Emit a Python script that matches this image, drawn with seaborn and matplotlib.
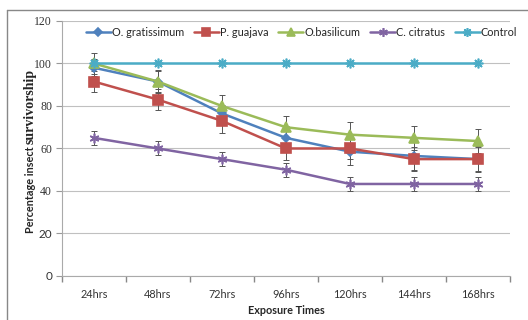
import numpy as np
import pandas as pd
import seaborn as sns
import matplotlib
matplotlib.use("Agg")
import matplotlib.pyplot as plt
from matplotlib.lines import Line2D

times = ["24hrs", "48hrs", "72hrs", "96hrs", "120hrs", "144hrs", "168hrs"]
species = ["O. gratissimum", "P. guajava", "O.basilicum", "C. citratus", "Control"]

gratissimum = [98, 91.5, 76.5, 65, 58.5, 56.5, 55]
guajava = [91.5, 83, 73, 60, 60, 55, 55]
basilicum = [100, 91.5, 80, 70, 66.5, 65, 63.5]
citratus = [65, 60, 55, 50, 43.3, 43.3, 43.3]
control = [100, 100, 100, 100, 100, 100, 100]

err_gratissimum = [4, 5, 4, 5.5, 6.5, 6.5, 5.5]
err_guajava = [5, 5, 5.5, 5.5, 5, 5.5, 6]
err_basilicum = [5, 5.5, 5, 5.5, 5.8, 5.5, 5.5]
err_citratus = [3.3, 3.3, 3.3, 3.3, 3.3, 3.3, 3.3]
err_control = [0, 0, 0, 0, 0, 0, 0]

values = [gratissimum, guajava, basilicum, citratus, control]
errors = [err_gratissimum, err_guajava, err_basilicum, err_citratus, err_control]
colors = ["#4F81BD", "#C0504D", "#9BBB59", "#8064A2", "#4BACC6"]
marker_list = ["D", "s", "^", (6, 2, 0), (8, 2, 0)]
marker_sizes = [4.5, 6.5, 6.5, 7, 7]

rows = []
for sp, vals in zip(species, values):
    for i, v in enumerate(vals):
        rows.append({"x": i, "Survivorship": v, "Species": sp})
df = pd.DataFrame(rows)

sns.set_theme(style="white")
plt.rcParams["font.family"] = ["Lato", "DejaVu Sans"]
plt.rcParams["xtick.bottom"] = True
plt.rcParams["ytick.left"] = True
plt.rcParams["xtick.minor.size"] = 4
plt.rcParams["xtick.minor.width"] = 1.0
fig = plt.figure(figsize=(5.28, 3.2), dpi=100)
ax = fig.add_axes([0.117, 0.1375, 0.849, 0.797])

x = np.arange(len(times))
for sp, vals, errs, c in zip(species, values, errors, colors):
    if max(errs) > 0:
        ax.errorbar(x, vals, yerr=errs, fmt="none", ecolor="#555555",
                    elinewidth=0.7, capsize=2.5, capthick=0.7, zorder=2)

for sp, c, m, ms in zip(species, colors, marker_list, marker_sizes):
    sns.lineplot(data=df[df["Species"] == sp], x="x", y="Survivorship",
                 color=c, marker=m, markersize=ms, markeredgecolor=c,
                 markeredgewidth=1.2, linewidth=1.8, ax=ax, zorder=3,
                 errorbar=None)

ax.set_xlim(-0.5, len(times) - 0.5)
ax.set_ylim(0, 120)
ax.set_yticks(range(0, 121, 20))
ax.set_xticks(x)
ax.set_xticklabels(times, fontsize=7.8, color="#333333")
ax.set_xticks(np.arange(-0.5, len(times)), minor=True)
ax.tick_params(axis="x", which="major", length=0, pad=9)
ax.tick_params(axis="x", which="minor", length=4, width=1.0, color="#888888",
               direction="out", bottom=True)
ax.tick_params(axis="y", length=4, width=0.8, color="#999999", direction="out", pad=3,
               labelsize=8.5, labelcolor="#333333", left=True)
for lab, val in zip(ax.get_yticklabels(), range(0, 121, 20)):
    lab.set_family("Liberation Serif" if val >= 40 else "Lato")

ax.yaxis.grid(True, color="#c0c0c0", linewidth=0.8)
ax.set_axisbelow(True)
for s in ["top", "right"]:
    ax.spines[s].set_visible(False)
ax.spines["left"].set_color("#aaaaaa")
ax.spines["bottom"].set_color("#aaaaaa")
ax.spines["left"].set_linewidth(0.8)
ax.spines["bottom"].set_linewidth(0.8)

ax.set_xlabel("Exposure Times", fontsize=7.8, fontweight="bold", labelpad=4)
ax.set_ylabel("")

t1 = fig.text(0.058, 0.272, "Percentage insect ", rotation=90, fontsize=7.8,
              fontweight="bold", ha="center", va="bottom")
ax.annotate("survivorship", xy=(0.5, 1.0), xycoords=t1, rotation=90, fontsize=10,
            fontweight="bold", family="Liberation Serif", ha="center", va="bottom")

handles = [Line2D([0], [0], color=c, marker=m, markersize=ms * 0.9, lw=1.8,
                  markeredgecolor=c, markeredgewidth=1.2)
           for c, m, ms in zip(colors, marker_list, marker_sizes)]
ax.legend(handles, species, loc="upper center", bbox_to_anchor=(0.535, 1.015), ncol=5,
          frameon=False, handlelength=2.3, handletextpad=0.1,
          columnspacing=0.9, prop={"size": 7.8})

# outer chart frame (top and left edges)
fig.add_artist(Line2D([7 / 528, 7 / 528], [0, 1 - 10 / 320], color="#888888", lw=1.0))
fig.add_artist(Line2D([7 / 528, 1], [1 - 10 / 320, 1 - 10 / 320], color="#888888", lw=1.0))

fig.savefig("out.png", dpi=100)
